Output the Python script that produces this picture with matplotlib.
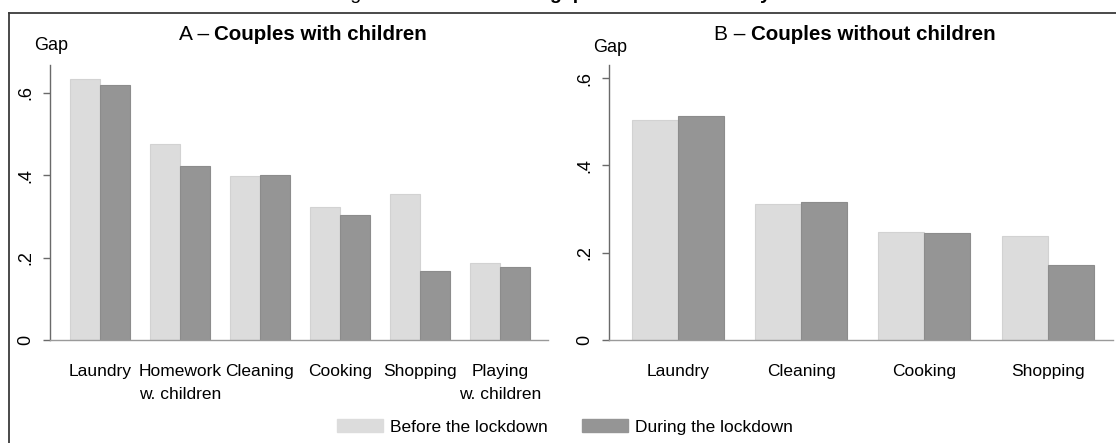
import matplotlib
matplotlib.use("Agg")
import matplotlib.pyplot as plt
from matplotlib.patches import Patch
from matplotlib.lines import Line2D

# ---------------- data ----------------
cats_a = ["Laundry", "Homework\nw. children", "Cleaning", "Cooking", "Shopping", "Playing\nw. children"]
before_a = [0.633, 0.475, 0.398, 0.323, 0.355, 0.187]
during_a = [0.619, 0.423, 0.401, 0.304, 0.168, 0.177]

cats_b = ["Laundry", "Cleaning", "Cooking", "Shopping"]
before_b = [0.504, 0.311, 0.247, 0.238]
during_b = [0.513, 0.316, 0.245, 0.172]

yticks = [0, 0.2, 0.4, 0.6]
ytick_labels = ["0", ".2", ".4", ".6"]
series_labels = ["Before the lockdown", "During the lockdown"]

# ---------------- style ----------------
FONT = ["Liberation Sans", "DejaVu Sans"]
plt.rcParams["font.family"] = FONT
C_BEFORE = "#dcdcdc"
C_DURING = "#959595"
AX_COL = "#6a6a6a"

W, H = 1116, 443
fig = plt.figure(figsize=(W / 100, H / 100), dpi=100)

def fx(px):
    return px / W

def fy(py):
    return 1 - py / H

def panel(rect, cats, before, during, width, xlim, ylim):
    ax = fig.add_axes(rect)
    x = list(range(len(cats)))
    ax.bar([i - width / 2 for i in x], before, width=width, color=C_BEFORE,
           edgecolor="#d2d2d2", linewidth=0.8)
    ax.bar([i + width / 2 for i in x], during, width=width, color=C_DURING,
           edgecolor="#8c8c8c", linewidth=0.8)
    ax.set_xlim(*xlim)
    ax.set_ylim(*ylim)
    ax.set_xticks(x)
    ax.set_xticklabels(cats, fontsize=12.5, linespacing=1.7)
    ax.tick_params(axis="x", length=0, pad=17)
    ax.set_yticks(yticks)
    ax.set_yticklabels(ytick_labels, rotation=90, va="center", fontsize=13)
    ax.tick_params(axis="y", length=5, width=1, color=AX_COL, pad=6)
    for s in ["top", "right"]:
        ax.spines[s].set_visible(False)
    ax.spines["left"].set_color(AX_COL)
    ax.spines["bottom"].set_color("#9a9a9a")
    ax.spines["left"].set_linewidth(1)
    ax.spines["bottom"].set_linewidth(1)
    return ax

bottom = fy(340)
height = (340 - 65) / H

panel([fx(50), bottom, fx(548 - 50), height], cats_a, before_a, during_a,
      0.375, (-0.625, 5.6), (0, 0.668))
panel([fx(609), bottom, fx(1113 - 609), height], cats_b, before_b, during_b,
      0.373, (-0.56, 3.53), (0, 0.63))

# y-axis "Gap" labels
fig.text(fx(34), fy(46), "Gap", fontsize=13, ha="left", va="center")
fig.text(fx(593), fy(47), "Gap", fontsize=13, ha="left", va="center")

# panel titles
fig.text(fx(209), fy(34), "A –", fontsize=15, ha="right", va="center")
fig.text(fx(214), fy(34), "Couples with children", fontsize=14.8,
         fontweight="bold", ha="left", va="center")
fig.text(fx(745), fy(34), "B –", fontsize=15, ha="right", va="center")
fig.text(fx(751), fy(34), "Couples without children", fontsize=14.8,
         fontweight="bold", ha="left", va="center")

# clipped main title (only descenders visible at the top edge)
fig.text(fx(422), fy(-1), "Figure 2 –", fontsize=14, ha="right", va="baseline")
fig.text(fx(428), fy(-1), "Women-men gap in domestic activity", fontsize=14,
         fontweight="bold", ha="left", va="baseline")

# outer frame (cropped at right and bottom)
fig.add_artist(Line2D([fx(9), fx(9)], [fy(13), 0], transform=fig.transFigure,
                      color="#3a3a3a", linewidth=1.3))
fig.add_artist(Line2D([fx(9), 1], [fy(13), fy(13)], transform=fig.transFigure,
                      color="#3a3a3a", linewidth=1.3))

# legend
handles = [Patch(facecolor=C_BEFORE, edgecolor=C_BEFORE),
           Patch(facecolor=C_DURING, edgecolor=C_DURING)]
fig.legend(handles, series_labels, loc="center", ncol=2, frameon=False,
           bbox_to_anchor=(fx(565), fy(427)), fontsize=12.5,
           handlelength=2.65, handleheight=0.75, handletextpad=0.4,
           columnspacing=2.0, borderpad=0)

fig.savefig("out.png", dpi=100)
